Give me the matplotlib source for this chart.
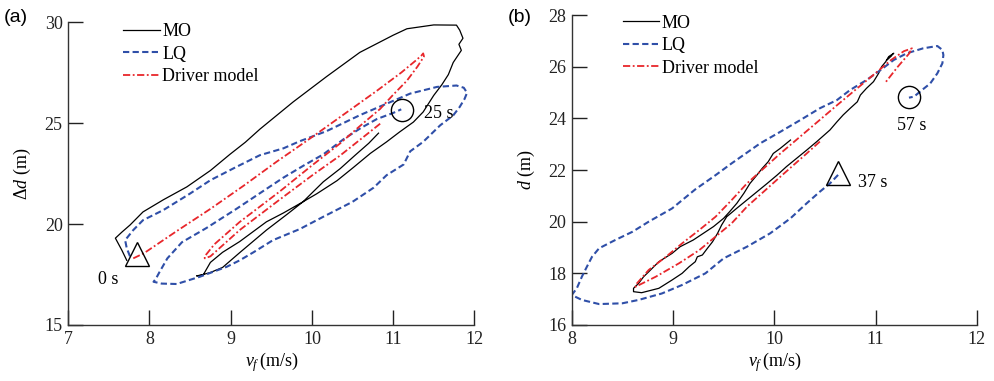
import matplotlib
matplotlib.use("Agg")
import matplotlib.pyplot as plt

plt.rcParams['font.family'] = ['Liberation Serif', 'DejaVu Serif']
plt.rcParams['mathtext.fontset'] = 'custom'
plt.rcParams['mathtext.rm'] = 'Liberation Serif'
plt.rcParams['mathtext.it'] = 'Liberation Serif:italic'

# ---------------- panel (a) data ----------------
mo_a_x = [7.72, 7.66, 7.58, 7.66, 7.76, 7.92, 8.17, 8.46, 8.75, 8.99, 9.18, 9.36, 9.77, 10.18,
          10.59, 11.0, 11.17, 11.5, 11.78, 11.82, 11.86, 11.81, 11.84, 11.74, 11.68, 11.6, 11.5,
          11.37, 11.25, 11.08, 10.92, 10.72, 10.51, 10.31, 10.06, 9.89, 9.65, 9.44, 9.11, 8.9,
          8.75, 8.70, 8.66, 8.58, 8.66, 8.75, 8.9, 9.11, 9.44, 9.7, 9.89, 10.14, 10.35, 10.53,
          10.7, 10.82]
mo_a_y = [18.2, 18.7, 19.3, 19.6, 19.95, 20.6, 21.2, 21.84, 22.65, 23.45, 24.05, 24.7, 26.05,
          27.3, 28.5, 29.35, 29.67, 29.86, 29.85, 29.6, 29.2, 28.9, 28.6, 28.0, 27.4, 26.9, 26.37,
          25.55, 25.05, 24.56, 24.07, 23.5, 22.8, 22.15, 21.5, 21.1, 20.55, 20.11, 19.13, 18.6,
          18.1, 17.75, 17.47, 17.43, 17.5, 17.6, 17.85, 18.58, 19.7, 20.5, 21.1, 22.09, 22.75,
          23.4, 24.0, 24.5]

lq_a_x = [7.76, 7.72, 7.70, 7.76, 7.80, 7.92, 8.17, 8.50, 8.75, 9.07, 9.36, 9.65, 9.85, 10.18,
          10.59, 10.92, 11.21, 11.54, 11.78, 11.87, 11.91, 11.88, 11.82, 11.74, 11.58, 11.37,
          11.21, 11.13, 10.92, 10.76, 10.5, 10.14, 9.85, 9.52, 9.28, 9.11, 8.95, 8.62, 8.335,
          8.15, 8.05, 8.08, 8.12, 8.22, 8.4, 8.7, 9.07, 9.35, 9.65, 9.9, 10.14, 10.39, 10.6,
          10.8, 11.0, 11.1]
lq_a_y = [18.4, 18.8, 19.2, 19.5, 19.7, 20.19, 20.69, 21.51, 22.17, 22.83, 23.41, 23.75, 24.1,
          24.6, 25.39, 25.96, 26.46, 26.79, 26.86, 26.75, 26.5, 26.2, 25.8, 25.38, 24.89, 24.07,
          23.6, 22.95, 22.42, 21.8, 21.1, 20.36, 19.75, 19.2, 18.6, 18.2, 17.88, 17.39, 17.03,
          17.05, 17.14, 17.3, 17.6, 18.3, 19.1, 19.8, 20.75, 21.5, 22.3, 22.9, 23.45, 24.2,
          24.75, 25.2, 25.5, 25.68]

dm_a_x = [7.80, 7.93, 8.335, 8.75, 9.16, 9.57, 10.0, 10.4, 10.8, 11.1, 11.28, 11.35, 11.37,
          11.38, 11.3, 11.17, 11.0, 10.84, 10.59, 10.35, 10.0, 9.6, 9.11, 8.8, 8.68, 8.68,
          8.75, 9.11, 9.6, 10.0, 10.35, 10.6, 10.85]
dm_a_y = [18.3, 18.55, 19.65, 20.75, 21.9, 23.1, 24.3, 25.45, 26.6, 27.5, 28.1, 28.35, 28.45,
          28.3, 27.8, 27.1, 26.4, 25.7, 24.85, 24.0, 22.9, 21.6, 20.1, 19.0, 18.4, 18.3,
          18.4, 19.7, 21.2, 22.4, 23.4, 24.2, 25.0]

# ---------------- panel (b) data ----------------
mo_b_x = [10.16, 10.06, 9.99, 9.94, 9.88, 9.83, 9.76, 9.70, 9.63, 9.56, 9.50, 9.40, 9.30, 9.20,
          9.07, 8.99, 8.86, 8.76, 8.71, 8.66, 8.61, 8.61, 8.69, 8.86, 8.99, 9.09, 9.16, 9.22,
          9.24, 9.29, 9.34, 9.39, 9.44, 9.48, 9.53, 9.63, 9.73, 9.83, 9.93, 10.03, 10.12, 10.22,
          10.32, 10.42, 10.55, 10.62, 10.68, 10.75, 10.82, 10.85, 10.91, 10.98, 11.03, 11.06,
          11.10, 11.13, 11.18, 11.12, 11.16, 11.11]
mo_b_y = [23.16, 22.84, 22.64, 22.32, 22.06, 21.81, 21.48, 21.1, 20.71, 20.39, 20.13, 19.81,
          19.55, 19.29, 19.03, 18.77, 18.45, 18.06, 17.87, 17.61, 17.42, 17.29, 17.25, 17.42,
          17.74, 18.0, 18.26, 18.45, 18.64, 18.71, 18.97, 19.22, 19.55, 19.87, 20.19, 20.52,
          20.84, 21.16, 21.48, 21.81, 22.13, 22.45, 22.77, 23.1, 23.55, 23.87, 24.13, 24.39,
          24.64, 24.9, 25.16, 25.42, 25.74, 26.0, 26.19, 26.39, 26.52, 26.3, 26.45, 26.25]

lq_b_x = [10.63, 10.55, 10.45, 10.32, 10.16, 9.96, 9.73, 9.50, 9.32, 9.09, 8.89, 8.66, 8.5,
          8.27, 8.10, 8.0, 8.05, 8.10, 8.15, 8.2, 8.27, 8.43, 8.6, 8.76, 8.99, 9.22, 9.42,
          9.58, 9.86, 10.06, 10.26, 10.45, 10.62, 10.75, 10.91, 11.05, 11.18, 11.31, 11.47,
          11.61, 11.66, 11.67, 11.66, 11.61, 11.54, 11.46, 11.38, 11.33]
lq_b_y = [21.81, 21.48, 21.16, 20.71, 20.13, 19.55, 19.03, 18.58, 18.0, 17.55, 17.22, 16.97,
          16.84, 16.81, 16.97, 17.16, 17.42, 17.87, 18.26, 18.64, 18.97, 19.29, 19.61, 20.0,
          20.51, 21.25, 21.8, 22.26, 23.03, 23.48, 23.94, 24.39, 24.71, 25.1, 25.48, 25.87,
          26.26, 26.52, 26.71, 26.8, 26.65, 26.45, 26.13, 25.74, 25.35, 25.1, 24.84, 24.8]

dm_b_x = [10.45, 10.32, 10.06, 9.73, 9.58, 9.42, 9.26, 9.06, 8.83, 8.63, 8.63, 8.76, 8.93,
          9.09, 9.26, 9.42, 9.58, 9.73, 10.06, 10.39, 10.62, 10.8, 11.0, 11.15, 11.28, 11.36,
          11.33, 11.22, 11.1]
dm_b_y = [23.1, 22.64, 21.74, 20.58, 19.94, 19.42, 18.9, 18.39, 17.87, 17.48, 17.55, 18.13,
          18.64, 19.16, 19.68, 20.19, 20.84, 21.48, 22.64, 23.74, 24.51, 25.1, 25.75, 26.25,
          26.6, 26.71, 26.5, 26.0, 25.4]

xticks_a = [7, 8, 9, 10, 11, 12]
yticks_a = [15, 20, 25, 30]
xticks_b = [8, 9, 10, 11, 12]
yticks_b = [16, 18, 20, 22, 24, 26, 28]

BLUE = '#2f4fa8'
RED = '#e8262b'

fig = plt.figure(figsize=(9.94, 3.81), dpi=100)
ax1 = fig.add_axes([0.0687, 0.147, 0.4085, 0.795])
ax2 = fig.add_axes([0.5752, 0.147, 0.4075, 0.8136])


def style(ax, xt, yt, xl, yl):
    ax.set_xlim(xt[0], xt[-1])
    ax.set_ylim(yt[0], yt[-1])
    ax.set_xticks(xt)
    ax.set_yticks(yt)
    for s in ['top', 'right']:
        ax.spines[s].set_visible(False)
    for s in ['left', 'bottom']:
        ax.spines[s].set_linewidth(1.0)
        ax.spines[s].set_color('#333333')
    ax.tick_params(direction='in', length=11, width=1.0, labelsize=13, pad=4, colors='#222222')
    ax.set_xlabel(xl, fontsize=13, labelpad=2)
    ax.set_ylabel(yl, fontsize=13, labelpad=8)


def draw(ax, mx, my, lx, ly, dx, dy):
    ax.plot(mx, my, color='black', lw=0.9, label='MO')
    ax.plot(lx, ly, color=BLUE, lw=1.5, dashes=(3.0, 1.6), label='LQ')
    ax.plot(dx, dy, color=RED, lw=1.3, dashes=(4.0, 1.4, 1.0, 1.4), label='Driver model')


draw(ax1, mo_a_x, mo_a_y, lq_a_x, lq_a_y, dm_a_x, dm_a_y)
draw(ax2, mo_b_x, mo_b_y, lq_b_x, lq_b_y, dm_b_x, dm_b_y)

style(ax1, xticks_a, yticks_a, r'$v_f\,$(m/s)', r'$\Delta d$ (m)')
style(ax2, xticks_b, yticks_b, r'$v_f\,$(m/s)', r'$d$ (m)')

# markers and time labels
ax1.plot([7.85], [18.5], marker='^', ms=17, mfc='none', mec='black', mew=1.0, ls='none')
ax1.plot([11.105], [25.67], marker='o', ms=16, mfc='none', mec='black', mew=1.0, ls='none')
ax1.text(7.49, 17.23, '0 s', fontsize=13, ha='center', va='center')
ax1.text(11.56, 25.49, '25 s', fontsize=13, ha='center', va='center')

ax2.plot([10.63], [21.87], marker='^', ms=17, mfc='none', mec='black', mew=1.0, ls='none')
ax2.plot([11.33], [24.84], marker='o', ms=16, mfc='none', mec='black', mew=1.0, ls='none')
ax2.text(11.36, 23.74, '57 s', fontsize=13, ha='center', va='center')
ax2.text(10.97, 21.5, '37 s', fontsize=13, ha='center', va='center')

for ax, xa, ya in [(ax1, 0.118, 1.02), (ax2, 0.109, 1.024)]:
    ax.legend(loc='upper left', bbox_to_anchor=(xa, ya), frameon=False, fontsize=13,
              handlelength=2.0, handletextpad=0.15, labelspacing=0.3, borderaxespad=0.0)

fig.text(0.004, 0.955, '(a)', fontsize=14, family='Liberation Sans', va='center')
fig.text(0.511, 0.955, '(b)', fontsize=14, family='Liberation Sans', va='center')

fig.savefig('out.png', dpi=100)
